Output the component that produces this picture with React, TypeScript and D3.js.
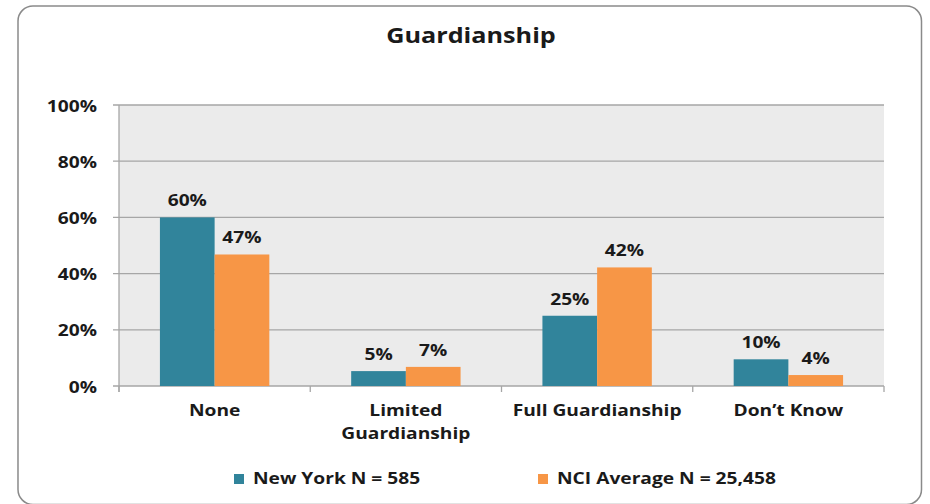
import React from "react";
import * as d3 from "d3";

const categories = ["None", "Limited\nGuardianship", "Full Guardianship", "Don\u2019t Know"];
const newYork = [60, 5.3, 25, 9.5];
const nciAverage = [46.8, 6.8, 42.2, 3.9];
const seriesNames = ["New York N = 585", "NCI Average N = 25,458"];
const yTicks = [0, 20, 40, 60, 80, 100];
const title = "Guardianship";

const W = 930, H = 504;
const FONT = "'Open Sans', sans-serif";
const colors = ["#31849b", "#f79646"];
const SX = 1.2;

function T({ x, y, anchor = "start", size = 16, children }: any) {
  return (
    <text
      transform={`translate(${x},${y}) scale(${SX},1)`}
      textAnchor={anchor}
      fontFamily={FONT}
      fontWeight={700}
      fontSize={size}
      fill="#1a1a1a"
    >
      {children}
    </text>
  );
}

export default function App() {
  const left = 119, right = 884, top = 105, bottom = 386;
  const x = d3.scaleBand<number>().domain(d3.range(categories.length)).range([left, right]).paddingInner(0).paddingOuter(0);
  const y = d3.scaleLinear().domain([0, 100]).range([bottom, top]);
  const bw = x.bandwidth();
  const barW = bw * 0.286;
  const series = [newYork, nciAverage];

  return (
    <svg width={W} height={H} style={{ position: "absolute", left: 0, top: 0, background: "#fff" }}>
      <rect x={18} y={6} width={903.5} height={498.5} rx={15} ry={15} fill="#fff" stroke="#8a8a8a" strokeWidth={1.5} />
      <T x={471} y={43} anchor="middle" size={21}>{title}</T>
      <rect x={left} y={top} width={right - left} height={bottom - top} fill="#ebebeb" />
      {yTicks.map((t) => (
        <g key={t}>
          <line x1={left - 6} x2={right} y1={y(t)} y2={y(t)} stroke="#a6a6a6" strokeWidth={1.3} />
          <T x={97} y={y(t) + 6.5} anchor="end" size={16}>{t}%</T>
        </g>
      ))}
      <line x1={left} x2={left} y1={top} y2={bottom + 6} stroke="#a6a6a6" strokeWidth={1.3} />
      {d3.range(categories.length + 1).map((i) => {
        const xx = i < categories.length ? x(i)! : right;
        return <line key={i} x1={xx} x2={xx} y1={bottom} y2={bottom + 6} stroke="#a6a6a6" strokeWidth={1.3} />;
      })}
      {series.map((vals, s) =>
        vals.map((v, i) => {
          const cx = x(i)! + bw / 2;
          const bx = cx - barW + s * barW;
          return (
            <g key={s + "-" + i}>
              <rect x={bx} y={y(v)} width={barW} height={bottom - y(v)} fill={colors[s]} />
              <T x={bx + barW / 2} y={y(v) - 11} anchor="middle" size={16}>{Math.round(v)}%</T>
            </g>
          );
        })
      )}
      {categories.map((c, i) =>
        c.split("\n").map((line, k) => (
          <T key={c + k} x={x(i)! + bw / 2} y={416 + k * 23} anchor="middle" size={16}>{line}</T>
        ))
      )}
      {seriesNames.map((n, s) => {
        const lx = s === 0 ? 234 : 538;
        return (
          <g key={n}>
            <rect x={lx} y={474} width={10} height={10} fill={colors[s]} />
            <T x={lx + 19} y={484} size={16}>{n}</T>
          </g>
        );
      })}
    </svg>
  );
}
